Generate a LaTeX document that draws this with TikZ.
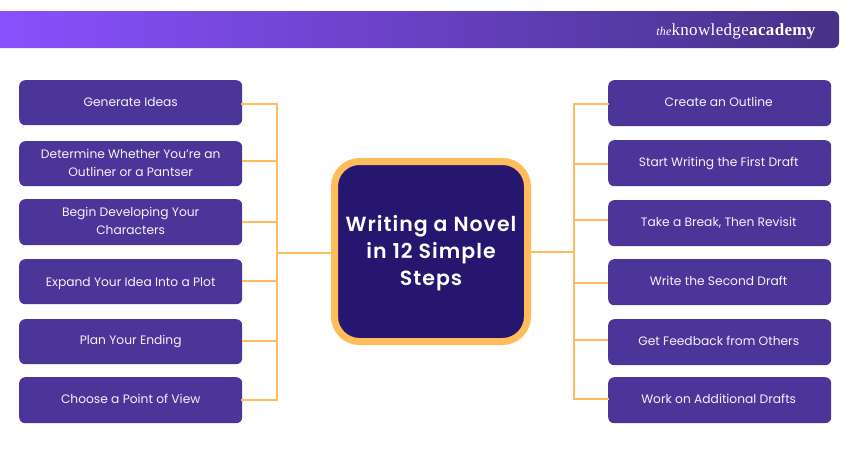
\documentclass[tikz,border=0pt]{standalone}
\usepackage{fontspec}
\setmainfont{Poppins}
\newfontfamily\titlefont[LetterSpace=5]{Poppins SemiBold}
\newfontfamily\logofont[LetterSpace=2]{Liberation Serif}
\usetikzlibrary{calc}
\definecolor{barL}{HTML}{8A50FF}
\definecolor{barR}{HTML}{463288}
\definecolor{stepfill}{HTML}{4C3599}
\definecolor{hubfill}{HTML}{27166F}
\definecolor{link}{HTML}{FFBC5A}
\newcommand\padtop[1]{\rule{0pt}{#1}}
\newcommand\padbot[1]{\rule[-#1]{0pt}{#1}}
\tikzset{
  x=1pt,y=-1pt,
  stepbox/.style={fill=stepfill,rounded corners=6pt,minimum width=223pt,minimum height=46pt,inner sep=0pt,
    text=white!93!stepfill,align=center,font=\fontsize{12.25}{18}\selectfont,anchor=north west},
  rightstep/.style={stepbox,execute at begin node=\hspace*{-2pt}},
  hubbox/.style={fill=hubfill,draw=link,line width=7pt,rounded corners=25pt,minimum width=193pt,minimum height=180pt,
    inner sep=0pt,text=white,align=center,font=\titlefont\fontsize{20.5}{27}\selectfont},
  linkline/.style={draw=link,line width=2.4pt},
}
\begin{document}
\begin{tikzpicture}
\useasboundingbox (0,0) rectangle (850,450);
\fill[white] (0,0) rectangle (850,450);
% banner
\path[left color=barL,right color=barR,rounded corners=6pt] (-8,11) rectangle (839,48);
\node (logo) [anchor=base east,inner sep=0pt,text=white,font=\logofont\fontsize{17}{20}\selectfont] at (816,35.5)
  {{\itshape\fontsize{12}{14}\selectfont the}knowledge\textbf{academy}};
% junctions on the trunks
\coordinate (tl) at (277,253);
\coordinate (tr) at (574,252);
% hub
\node (hub) [hubbox] at (431,251.5) {\padtop{20pt}Writing a Novel\\in 12 Simple\\Steps};
% left steps
\node (l1) [stepbox,minimum height=45pt] at (19,80)  {\raisebox{2pt}{Generate Ideas}};
\node (l2) [stepbox,minimum height=45pt] at (19,141) {Determine Whether You're an\\Outliner or a Pantser\padbot{2pt}};
\node (l3) [stepbox] at (19,199) {Begin Developing Your\\Characters\padbot{2pt}};
\node (l4) [stepbox,minimum height=45pt] at (19,259) {\padtop{13pt}Expand Your Idea Into a Plot};
\node (l5) [stepbox,minimum height=45pt] at (19,319) {\raisebox{2pt}{Plan Your Ending}};
\node (l6) [stepbox] at (19,377) {\raisebox{3pt}{Choose a Point of View}};
% right steps
\node (r1) [rightstep] at (608,80)  {\raisebox{2pt}{Create an Outline}};
\node (r2) [rightstep] at (608,140) {Start Writing the First Draft};
\node (r3) [rightstep] at (608,200) {\raisebox{2pt}{Take a Break, Then Revisit}};
\node (r4) [rightstep] at (608,259) {\raisebox{2pt}{Write the Second Draft}};
\node (r5) [rightstep] at (608,319) {\raisebox{2pt}{Get Feedback from Others}};
\node (r6) [rightstep] at (608,377) {\raisebox{3pt}{Work on Additional Drafts}};
% connectors
\draw[linkline] ($(hub.west)+(0,1.5)$) -- (tl);
\draw[linkline] ($(hub.east)+(0,0.5)$) -- (tr);
\draw[linkline,line cap=rect] ($(l1.east)+(0,1.5)$) -| (tl);
\draw[linkline,line cap=rect] (l6.east) -| (tl);
\draw[linkline] ($(l2.east)+(0,-2.5)$) -- ++(35,0);
\draw[linkline] (l3.east) -- ++(35,0);
\draw[linkline] ($(l4.east)+(0,-0.5)$) -- ++(35,0);
\draw[linkline] ($(l5.east)+(0,-0.5)$) -- ++(35,0);
\draw[linkline,line cap=rect] ($(r1.west)+(0,1)$) -| (tr);
\draw[linkline,line cap=rect] ($(r6.west)+(0,-1)$) -| (tr);
\draw[linkline] ($(r2.west)+(0,1)$) -- ++(-34,0);
\draw[linkline] ($(r3.west)+(0,-3)$) -- ++(-34,0);
\draw[linkline] ($(r4.west)+(0,1)$) -- ++(-34,0);
\draw[linkline] ($(r5.west)+(0,-2)$) -- ++(-34,0);
\end{tikzpicture}
\end{document}
